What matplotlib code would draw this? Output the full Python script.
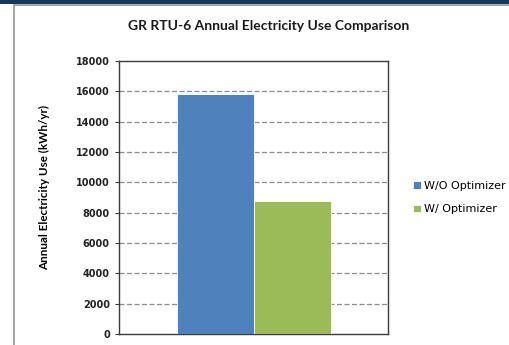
import matplotlib as mpl
import matplotlib.pyplot as plt
import numpy as np
from matplotlib.patches import Rectangle

mpl.rcParams['font.family'] = ['Lato', 'DejaVu Sans']

# annual electricity use for the unit, with and without the optimizer
series = ['W/O Optimizer', 'W/ Optimizer']
valores = [15800, 8800]
colores = ['#4f81bd', '#9bbb59']
yticks = np.arange(0, 18001, 2000)

fig = plt.figure(figsize=(5.1, 3.45), dpi=100)
W, H = 510, 345

# navy band on top and grey chart border
fig.patches.append(Rectangle((0, 1 - 4 / H), 1, 4 / H, transform=fig.transFigure,
                             facecolor='#17375e', edgecolor='none', zorder=-10))
fig.patches.append(Rectangle((14 / W, -0.05), 1.1, 1 - 5 / H + 0.05, transform=fig.transFigure,
                             facecolor='white', edgecolor='#a6a6a6', linewidth=1.5, zorder=-10))

ax = fig.add_axes([119.5 / W, 1 - 334 / H, (388 - 119.5) / W, (334 - 61) / H])

ancho = 0.2875
x0 = np.array([-0.5, 0.5]) * ancho
for xi, v, c, s in zip(x0, valores, colores, series):
    ax.bar(xi, v, width=ancho, color=c, edgecolor='white', linewidth=0.6, label=s, zorder=3)

ax.set_xlim(-0.5, 0.5)
ax.set_ylim(0, 18000)
ax.set_yticks(yticks)
ax.set_yticklabels([str(t) for t in yticks], fontsize=7, fontweight='bold',
                   color='#222222', family='DejaVu Sans')
ax.set_xticks([])
for t in yticks[1:-1]:
    ax.axhline(t, color='#8c8c8c', linestyle=(0, (4, 2)), linewidth=0.9, zorder=1)
for sp in ax.spines.values():
    sp.set_color('#3a3a3a')
    sp.set_linewidth(1.0)
ax.tick_params(axis='y', length=3, width=0.8, color='#3a3a3a', pad=4)
ax.set_ylabel('Annual Electricity Use (kWh/yr)', fontsize=8.4, fontweight='bold')
ax.yaxis.set_label_coords(-0.259, 0.537)

fig.text(269 / W, 1 - 26 / H, 'GR RTU-6 Annual Electricity Use Comparison',
         ha='center', va='center', fontsize=10, fontweight='bold', color='#1a1a1a')

ax.legend(loc='center left', bbox_to_anchor=(1.055, 0.5), frameon=False,
          prop={'family': 'DejaVu Sans', 'size': 8},
          handlelength=0.7, handleheight=0.7, handletextpad=0.3, labelspacing=1.25)

plt.savefig('out.png', dpi=100)
